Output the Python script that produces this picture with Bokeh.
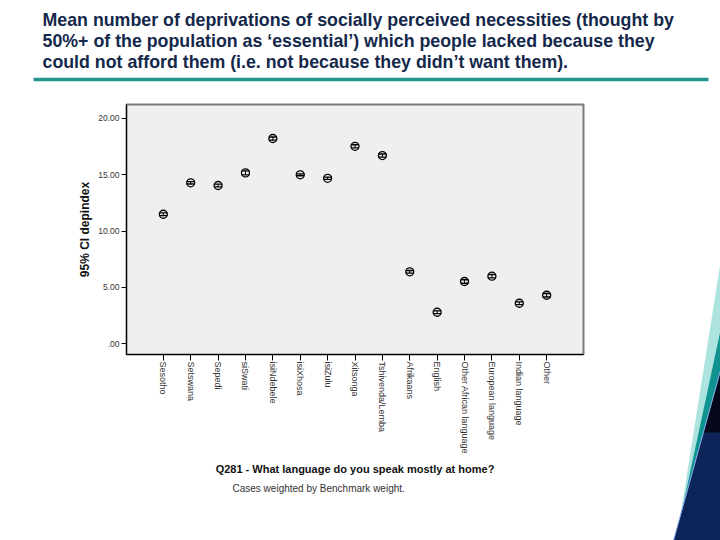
import math
from bokeh.plotting import figure
from bokeh.models import (ColumnDataSource, FactorRange, Range1d, FixedTicker,
                          Whisker, TeeHead, Title)
from bokeh.layouts import column, row
from bokeh.embed import file_html
from bokeh.resources import INLINE
from bokeh.core.properties import value

# ---------------- data ----------------
title_lines = [
    "Mean number of deprivations of socially perceived necessities (thought by",
    "50%+ of the population as \u2018essential\u2019) which people lacked because they",
    "could not afford them (i.e. not because they didn\u2019t want them).",
]
categories = [
    "Sesotho", "Setswana", "Sepedi", "siSwati", "isiNdebele", "isiXhosa",
    "isiZulu", "Xitsonga", "Tshivenda/Lemba", "Afrikaans", "English",
    "Other African language", "European language", "Indian language", "Other",
]
means = [11.50, 14.29, 14.05, 15.17, 18.22, 15.00, 14.69, 17.53, 16.71,
         6.39, 2.80, 5.53, 6.00, 3.60, 4.31]
ci_half = [0.12, 0.10, 0.12, 0.18, 0.14, 0.08, 0.10, 0.14, 0.14,
           0.12, 0.12, 0.15, 0.15, 0.12, 0.15]
y_ticks = [0, 5, 10, 15, 20]
y_tick_labels = [".00", "5.00", "10.00", "15.00", "20.00"]
x_axis_title = "Q281 - What language do you speak mostly at home?"
y_axis_title = "95% CI depindex"
footnote = "Cases weighted by Benchmark weight."

FONT = "Liberation Sans"

# ---------------- title band ----------------
tp = figure(width=720, height=85, x_range=Range1d(0, 720), y_range=Range1d(85, 0),
            x_axis_type=None, y_axis_type=None, output_backend="svg",
            toolbar_location=None, min_border=0, min_border_left=0,
            min_border_right=0, min_border_top=0, min_border_bottom=0)
tp.grid.visible = False
tp.outline_line_color = None
tp.text(x=[42, 42, 42], y=[19, 40, 61], text=title_lines,
        text_font=value(FONT), text_font_size="17.8px", text_font_style="bold",
        text_color="#14284b", text_baseline="alphabetic", text_align="left")
tp.segment(x0=[33], y0=[79], x1=[708], y1=[79], line_width=3.5, line_color="#24928f")

# ---------------- chart ----------------
src = ColumnDataSource(dict(
    cat=categories,
    mean=means,
    lower=[m - c for m, c in zip(means, ci_half)],
    upper=[m + c for m, c in zip(means, ci_half)],
))

p = figure(width=640, height=455,
           x_range=FactorRange(factors=categories, range_padding=0.845,
                               range_padding_units="absolute"),
           y_range=Range1d(-0.95, 21.24),
           output_backend="svg", toolbar_location=None,
           min_border_left=126, min_border_right=57, min_border_top=19,
           min_border_bottom=186,
           background_fill_color="#efefef", border_fill_color="white")
p.outline_line_color = "#7a7a7a"
p.outline_line_width = 2
p.xgrid.visible = False
p.ygrid.visible = False

p.add_layout(Whisker(source=src, base="cat", upper="upper", lower="lower",
                     dimension="height", line_color="black", line_width=1,
                     upper_head=TeeHead(size=8, line_color="black", line_width=1.4),
                     lower_head=TeeHead(size=8, line_color="black", line_width=1.4)))
p.scatter("cat", "mean", source=src, marker="circle", size=8,
          fill_color=None, line_color="black", line_width=1.3)

p.yaxis.ticker = FixedTicker(ticks=y_ticks)
p.yaxis.major_label_overrides = dict(zip(y_ticks, y_tick_labels))
p.yaxis.axis_label = y_axis_title
p.xaxis.axis_label = x_axis_title
p.xaxis.major_label_orientation = -math.pi / 2

for ax in (p.xaxis[0], p.yaxis[0]):
    ax.axis_line_color = "black"
    ax.axis_line_width = 1
    ax.major_tick_line_color = "black"
    ax.minor_tick_line_color = None
    ax.major_tick_in = 0
    ax.major_label_text_font = FONT
    ax.major_label_text_color = "#333333"
    ax.axis_label_text_font = FONT
    ax.axis_label_text_font_style = "bold"
    ax.axis_label_text_color = "#111111"

p.xaxis.major_label_text_font_size = "9px"
p.yaxis.major_label_text_font_size = "8.5px"
p.xaxis.major_tick_out = 6
p.xaxis.major_label_standoff = 1
p.xaxis.axis_label_text_font_size = "11px"
p.xaxis.axis_label_standoff = 6
p.yaxis.major_tick_out = 5
p.yaxis.major_label_standoff = 2
p.yaxis.axis_label_text_font_size = "12px"
p.yaxis.axis_label_standoff = 3

p.add_layout(Title(text=footnote, align="left", offset=106,
                   text_font=FONT, text_font_size="10px",
                   text_font_style="normal", text_color="#333333",
                   standoff=4), "below")

# ---------------- right-side decoration ----------------
dp = figure(width=80, height=455, x_range=Range1d(640, 720), y_range=Range1d(540, 85),
            x_axis_type=None, y_axis_type=None, output_backend="svg",
            toolbar_location=None, min_border=0, min_border_left=0,
            min_border_right=0, min_border_top=0, min_border_bottom=0)
dp.grid.visible = False
dp.outline_line_color = None
dp.patch([720, 720, 676], [262, 540, 540], color="#aee4e0", line_width=0)
dp.patch([720, 720, 675], [330, 540, 540], color="#109390", line_width=0)
dp.patch([720, 720, 673], [370, 540, 540], color="#0c2457", line_width=0)
dp.patch([720, 720, 703], [370, 432, 432], color="#04081a", line_width=0)
dp.line([720, 673], [370, 540], line_color="#8fb0f0", line_width=1)

layout = column(tp, row(p, column(dp, spacing=0), spacing=0), spacing=0)

open("out.html", "w").write(file_html(layout, INLINE))
